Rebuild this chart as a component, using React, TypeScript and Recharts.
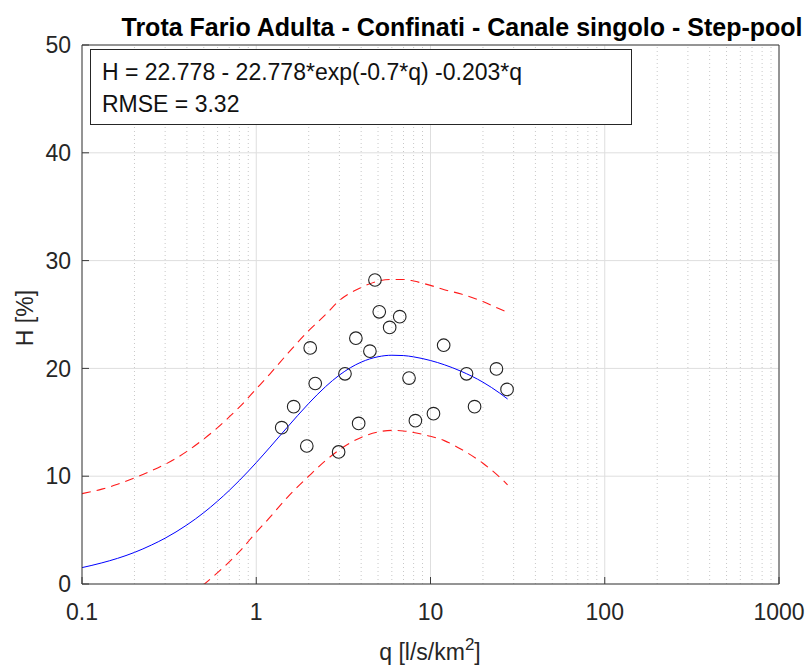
import {
    ComposedChart,
    Line,
    Scatter,
    XAxis,
    YAxis,
    CartesianGrid,
    ReferenceLine,
} from 'recharts';

// curve samples (fit + prediction bounds)
const qFit = [0.1, 0.13, 0.16, 0.2, 0.25, 0.3, 0.4, 0.5, 0.6, 0.7, 0.8, 1, 1.2, 1.5, 2, 2.5, 3, 4, 5, 6, 7, 8, 10, 12, 15, 20, 25, 27.7];
const hFit = [1.52, 1.96, 2.38, 2.93, 3.61, 4.25, 5.48, 6.62, 7.69, 8.68, 9.6, 11.26, 12.7, 14.5, 16.75, 18.31, 19.38, 20.58, 21.08, 21.22, 21.19, 21.07, 20.73, 20.34, 19.73, 18.72, 17.7, 17.16];
const hUpper = [8.38, 8.8, 9.25, 9.84, 10.5, 11.1, 12.3, 13.45, 14.5, 15.5, 16.4, 18.1, 19.5, 21.3, 23.5, 25.0, 26.3, 27.5, 28.1, 28.25, 28.25, 28.1, 27.7, 27.3, 26.9, 26.2, 25.5, 25.2];
const hLower = [-5.3, -4.9, -4.45, -3.9, -3.2, -2.6, -1.3, -0.05, 1.05, 2.05, 3.0, 4.8, 6.2, 8.0, 10.0, 11.45, 12.45, 13.6, 14.1, 14.25, 14.2, 14.05, 13.7, 13.3, 12.5, 11.2, 9.9, 9.2];

// observations
const qObs = [1.4, 1.64, 2.04, 1.95, 2.18, 2.97, 3.23, 3.73, 3.87, 4.49, 4.8, 5.08, 5.83, 6.66, 7.53, 8.19, 10.4, 11.9, 16.1, 17.9, 23.9, 27.5];
const hObs = [14.5, 16.45, 21.9, 12.8, 18.6, 12.25, 19.5, 22.8, 14.9, 21.6, 28.2, 25.25, 23.8, 24.8, 19.1, 15.15, 15.8, 22.15, 19.5, 16.45, 19.95, 18.05];

const xTicks = [0.1, 1, 10, 100, 1000];
const xMinorTicks = [
    0.2, 0.3, 0.4, 0.5, 0.6, 0.7, 0.8, 0.9,
    2, 3, 4, 5, 6, 7, 8, 9,
    20, 30, 40, 50, 60, 70, 80, 90,
    200, 300, 400, 500, 600, 700, 800, 900,
];
const yTicks = [0, 10, 20, 30, 40, 50];

const curveData = qFit.map((q, i) => ({
    q,
    fit: hFit[i],
    upper: hUpper[i],
    lower: hLower[i],
}));
const obsData = qObs.map((q, i) => ({ q, h: hObs[i] }));

const FONT = '"Liberation Sans", Arial, Helvetica, sans-serif';
const AXIS = '#3a3a3a';
const tickStyle = { fill: '#262626', fontSize: 23, fontFamily: FONT };

const Circle = (props: any) => (
    <circle
        cx={props.cx}
        cy={props.cy}
        r={6.3}
        fill='none'
        stroke='#222'
        strokeWidth={1.1}
    />
);

// shared settings for the log x axes (bottom, top, minor ticks)
const logX = {
    type: 'number' as const,
    dataKey: 'q',
    scale: 'log' as const,
    domain: [0.1, 1000],
    allowDataOverflow: true,
    stroke: AXIS,
    height: 1,
};

export default function App() {
    return (
        <div style={{ position: 'absolute', left: 0, top: 0, width: 810, height: 670, background: '#fff' }}>
            <ComposedChart
                width={810}
                height={670}
                data={curveData}
                margin={{ top: 43, right: 30, bottom: 84, left: 81 }}
            >
                <CartesianGrid stroke='#dedede' />
                {xMinorTicks.map((t) => (
                    <ReferenceLine
                        key={`mg-${t}`}
                        x={t}
                        stroke='#c8c8c8'
                        strokeDasharray='1 3'
                        ifOverflow='hidden'
                    />
                ))}

                <XAxis
                    {...logX}
                    ticks={xTicks}
                    tickFormatter={(v) => String(v)}
                    tick={tickStyle}
                    tickSize={-7}
                    tickMargin={27}
                />
                <XAxis
                    {...logX}
                    xAxisId='minor'
                    ticks={xMinorTicks}
                    tick={false}
                    tickSize={-4}
                    axisLine={false}
                />
                <XAxis
                    {...logX}
                    xAxisId='top'
                    orientation='top'
                    ticks={xTicks}
                    tick={false}
                    tickSize={-7}
                />
                <XAxis
                    {...logX}
                    xAxisId='topMinor'
                    orientation='top'
                    ticks={xMinorTicks}
                    tick={false}
                    tickSize={-4}
                    axisLine={false}
                />
                <YAxis
                    type='number'
                    domain={[0, 50]}
                    allowDataOverflow
                    ticks={yTicks}
                    tick={tickStyle}
                    tickSize={-7}
                    tickMargin={18}
                    stroke={AXIS}
                    width={1}
                />
                <YAxis
                    yAxisId='right'
                    orientation='right'
                    type='number'
                    domain={[0, 50]}
                    allowDataOverflow
                    ticks={yTicks}
                    tick={false}
                    tickSize={-7}
                    stroke={AXIS}
                    width={1}
                />

                {/* invisible carriers so the tick-only axes get a scale */}
                <Line xAxisId='minor' dataKey='fit' stroke='none' dot={false} activeDot={false} isAnimationActive={false} />
                <Line xAxisId='topMinor' dataKey='fit' stroke='none' dot={false} activeDot={false} isAnimationActive={false} />
                <Line xAxisId='top' yAxisId='right' dataKey='fit' stroke='none' dot={false} activeDot={false} isAnimationActive={false} />

                <Line
                    dataKey='upper'
                    stroke='#ff1a1a'
                    strokeWidth={1.1}
                    strokeDasharray='9 6'
                    dot={false}
                    type='monotone'
                    isAnimationActive={false}
                />
                <Line
                    dataKey='lower'
                    stroke='#ff1a1a'
                    strokeWidth={1.1}
                    strokeDasharray='9 6'
                    dot={false}
                    type='monotone'
                    isAnimationActive={false}
                />
                <Line
                    dataKey='fit'
                    stroke='#0000ff'
                    strokeWidth={1}
                    dot={false}
                    type='monotone'
                    isAnimationActive={false}
                />
                <Scatter
                    data={obsData}
                    dataKey='h'
                    shape={Circle}
                    isAnimationActive={false}
                />
            </ComposedChart>

            <svg
                width={810}
                height={670}
                style={{ position: 'absolute', left: 0, top: 0, pointerEvents: 'none' }}
                fontFamily={FONT}
            >
                <text x={462} y={36} textAnchor='middle' fontSize={25} fontWeight='bold' fill='#000'>
                    Trota Fario Adulta - Confinati - Canale singolo - Step-pool
                </text>
                <rect x={90.5} y={49.5} width={541} height={75} fill='#fff' stroke='#262626' strokeWidth={1} />
                <text x={102} y={80} fontSize={23} fill='#111'>
                    H = 22.778 - 22.778*exp(-0.7*q) -0.203*q
                </text>
                <text x={102} y={111.5} fontSize={23} fill='#111'>
                    RMSE = 3.32
                </text>
                <text
                    x={33}
                    y={318}
                    textAnchor='middle'
                    fontSize={23}
                    fill='#262626'
                    transform='rotate(-90 33 318)'
                >
                    H [%]
                </text>
                <text x={430} y={660} textAnchor='middle' fontSize={23} fill='#262626'>
                    q [l/s/km<tspan dy={-10} fontSize={17}>2</tspan><tspan dy={10}>]</tspan>
                </text>
            </svg>
        </div>
    );
}
